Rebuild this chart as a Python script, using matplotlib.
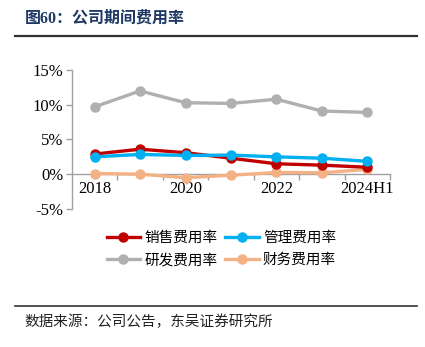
import matplotlib
matplotlib.use("Agg")
import matplotlib.pyplot as plt
from matplotlib.lines import Line2D

categories = ["2018", "2019", "2020", "2021", "2022", "2023", "2024H1"]
tick_labels = ["2018", "", "2020", "", "2022", "", "2024H1"]
sales = [2.9, 3.6, 3.1, 2.3, 1.5, 1.3, 1.0]
admin = [2.5, 2.85, 2.7, 2.75, 2.5, 2.3, 1.85]
rnd = [9.7, 12.0, 10.3, 10.2, 10.8, 9.1, 8.9]
finance = [0.1, 0.0, -0.5, -0.15, 0.25, 0.2, 0.7]

names = ["销售费用率", "管理费用率", "研发费用率", "财务费用率"]
colors = ["#C00000", "#00B0F0", "#B0B0B0", "#F4B183"]
series = [sales, admin, rnd, finance]

cjk = ["Noto Sans CJK SC", "DejaVu Sans"]
serif = ["Liberation Serif", "Noto Sans CJK SC"]

fig = plt.figure(figsize=(4.25, 3.47), dpi=100)
ax = fig.add_axes([0.169, 0.398, 0.749, 0.400])

for s in ["top", "right"]:
    ax.spines[s].set_visible(False)
ax.spines["bottom"].set_position(("data", 0))
for s in ["left", "bottom"]:
    ax.spines[s].set_color("#A0A0A0")
    ax.spines[s].set_linewidth(1)
    ax.spines[s].set_zorder(1)

x = list(range(len(categories)))
order = [2, 3, 0, 1]
zs = {2: 2, 3: 3, 0: 4, 1: 5}
for i in order:
    ax.plot(x, series[i], color=colors[i], lw=2.4, marker="o", ms=6.5,
            zorder=zs[i], clip_on=False)

ax.set_xlim(-0.5, 6.5)
ax.set_ylim(-5, 15)
ax.set_yticks([-5, 0, 5, 10, 15])
ax.set_yticklabels(["-5%", "0%", "5%", "10%", "15%"], fontfamily=serif, fontsize=12)
ax.set_xticks(x)
ax.set_xticklabels(tick_labels, fontfamily=serif, fontsize=12)
ax.set_xticks([i + 0.5 for i in range(0, 7)], minor=True)
ax.tick_params(axis="x", which="major", length=0, pad=5)
ax.tick_params(axis="x", which="minor", length=4, color="#A0A0A0", width=1)
ax.tick_params(axis="y", length=4, color="#A0A0A0", width=1, pad=2)

handles = [Line2D([0], [0], color=c, lw=2.4, marker="o", ms=6.5) for c in colors]
ho = [0, 2, 1, 3]
leg = fig.legend([handles[k] for k in ho], [names[k] for k in ho],
                 loc="upper left", bbox_to_anchor=(0.22, 0.372),
                 ncol=2, frameon=False, prop={"family": cjk, "size": 10.5},
                 handlelength=2.3, handletextpad=0.3, columnspacing=0.5,
                 labelspacing=0.55)

fig.text(0.058, 0.947, "图60：公司期间费用率", fontfamily=serif, fontsize=11.5,
         fontweight="bold", color="#1F3864", va="center", ha="left")
fig.add_artist(Line2D([0.035, 0.982], [0.897, 0.897], color="#333333", lw=1.6))
fig.add_artist(Line2D([0.035, 0.982], [0.118, 0.118], color="#333333", lw=1.2))
fig.text(0.058, 0.072, "数据来源：公司公告，东吴证券研究所", fontfamily=cjk, fontsize=10.5,
         color="#222222", va="center", ha="left")

fig.savefig("out.png", dpi=100)
